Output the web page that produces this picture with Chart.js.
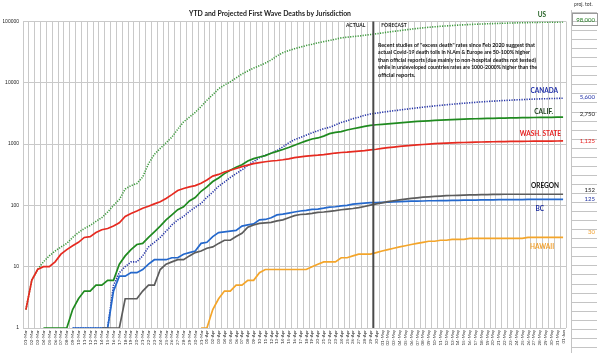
<!DOCTYPE html>
<html><head><meta charset="utf-8">
<script src="https://cdn.jsdelivr.net/npm/chart.js@4/dist/chart.umd.min.js"></script>
<style>html,body{margin:0;padding:0;background:#fff;}#wrap{width:600px;height:353px;position:relative;}</style>
</head><body><div id="wrap"><canvas id="c" width="600" height="353"></canvas></div>
<script>
const dayLabels = [
"01-Mar","02-Mar","03-Mar","04-Mar","05-Mar","06-Mar","07-Mar","08-Mar","09-Mar","10-Mar","11-Mar","12-Mar","13-Mar","14-Mar","15-Mar","16-Mar","17-Mar","18-Mar","19-Mar","20-Mar","21-Mar","22-Mar","23-Mar","24-Mar","25-Mar","26-Mar","27-Mar","28-Mar","29-Mar","30-Mar","31-Mar",
"01-Apr","02-Apr","03-Apr","04-Apr","05-Apr","06-Apr","07-Apr","08-Apr","09-Apr","10-Apr","11-Apr","12-Apr","13-Apr","14-Apr","15-Apr","16-Apr","17-Apr","18-Apr","19-Apr","20-Apr","21-Apr","22-Apr","23-Apr","24-Apr","25-Apr","26-Apr","27-Apr","28-Apr","29-Apr","30-Apr",
"01-May","02-May","03-May","04-May","05-May","06-May","07-May","08-May","09-May","10-May","11-May","12-May","13-May","14-May","15-May","16-May","17-May","18-May","19-May","20-May","21-May","22-May","23-May","24-May","25-May","26-May","27-May","28-May","29-May","30-May","31-May",
"01-Jun"];

const usDeaths = [2,6,9,12,15,18,21,24,30,36,42,47,55,63,78,100,125,185,210,228,290,480,680,850,1050,1300,1750,2300,2750,3300,4100,
5200,6400,8000,9200,10400,12000,13900,15600,17400,19000,21000,23500,27500,31000,33500,36000,38200,40500,42500,45000,47000,49000,51500,54000,55500,56800,58000,59600,61200,63000,
65000,67000,69000,71000,73000,75000,77000,78800,80500,82000,83500,84800,86000,87200,88300,89300,90200,91000,91800,92500,93200,93800,94400,95000,95500,96000,96500,96900,97300,97600,97800,98000];

const canadaDeaths = [null,null,null,null,null,null,null,null,1,1,1,1,1,1,1,5,8,10,12,12,15,21,25,30,38,48,58,66,80,93,108,
135,165,205,240,285,330,380,450,520,600,660,710,780,900,1050,1180,1280,1400,1530,1650,1780,1880,2050,2250,2400,2600,2750,2950,3100,3200,
3300,3400,3500,3600,3700,3800,3900,4000,4100,4200,4290,4380,4470,4560,4640,4720,4800,4880,4950,5020,5090,5150,5210,5270,5320,5370,5420,5460,5500,5540,5570,5600];

const califDeaths = [null,null,null,1,1,1,1,1,2,3,4,4,5,5,6,6,11,15,19,23,24,30,37,46,58,70,85,95,118,134,170,
200,245,280,330,375,420,460,530,580,615,650,710,760,815,880,960,1040,1130,1210,1260,1350,1480,1550,1600,1700,1780,1860,1940,2020,2070,
2100,2140,2180,2220,2260,2300,2340,2370,2400,2430,2460,2490,2510,2530,2550,2570,2590,2605,2620,2635,2650,2662,2674,2686,2697,2707,2716,2724,2732,2739,2745,2750];

const washDeaths = [2,6,9,10,10,12,16,19,22,25,30,31,36,40,42,46,52,66,74,81,90,97,106,115,130,150,175,189,200,210,230,
260,300,320,350,375,400,430,455,480,500,515,530,540,555,575,600,620,635,650,660,675,695,715,730,740,755,770,785,805,825,
850,875,895,915,935,955,970,985,1000,1015,1025,1035,1045,1055,1062,1070,1076,1082,1088,1093,1097,1101,1105,1108,1111,1114,1116,1118,1120,1122,1124,1125];

const oregonDeaths = [null,null,null,null,null,null,null,null,null,null,null,null,null,1,1,1,1,3,3,3,4,5,5,9,11,12,13,13,15,17,18,
20,21,24,27,27,31,35,44,48,51,52,53,56,58,63,68,71,72,74,77,78,80,82,85,87,89,92,96,101,106,
110,115,119,123,127,130,133,136,138,140,142,144,145,146,147,148,149,150,150,151,151,152,152,152,152,152,152,152,152,152,152,152];

const bcDeaths = [null,null,null,null,null,null,null,null,1,1,1,1,1,1,1,4,7,7,8,8,9,11,13,13,13,14,14,16,17,18,24,
25,31,36,37,38,39,46,48,50,58,59,63,70,72,75,78,81,83,86,87,90,94,95,98,100,105,107,109,111,111,
112,113,114,115,116,117,117,118,119,119,120,120,121,121,122,122,122,123,123,123,124,124,124,124,124,125,125,125,125,125,125,125];

const hawaiiDeaths = [null,null,null,null,null,null,null,null,null,null,null,null,null,null,null,null,null,null,null,null,null,null,null,null,null,null,null,null,null,null,1,
1,2,3,4,4,5,5,6,6,8,9,9,9,9,9,9,9,9,10,11,12,12,12,14,14,15,16,16,16,17,
18,19,20,21,22,23,24,25,26,26,27,27,28,28,28,29,29,29,29,29,29,29,29,29,29,30,30,30,30,30,30,30];

const yTickValues = [1,10,100,1000,10000,100000];
const seriesNames = ["US","CANADA","CALIF.","WASH. STATE","OREGON","BC","HAWAII"];
const projTotals = ["98,000","5,600","2,750","1,125","152","125","30"];
const forecastStartLabel = "30-Apr";
const titleText = "YTD and Projected First Wave Deaths by Jurisdiction";
const noteLines = [
 "Recent studies of \"excess death\" rates since Feb 2020 suggest that",
 "actual Covid-19 death tolls in N.Am & Europe are 50-100% higher",
 "than official reports (due mainly to non-hospital deaths not tested)",
 "while in undeveloped countries rates are 1000-2000% higher than the",
 "official reports."
];

const FONT = "Lato, 'Open Sans', 'Liberation Sans', sans-serif";

const lineColors = ["#3d9a3d","#2433a8","#1f8a1f","#e62a20","#5c5c5c","#2468cc","#f4a52a"];
const labelColors = ["#1f5e1f","#1f2fa8","#1a3d1a","#e62020","#111111","#1f2f9f","#f0a030"];
const labelStyle = [ {dx:-15,dy:-7}, {dx:-3,dy:-7}, {dx:-8,dy:-5}, {dx:0,dy:-7}, {dx:-2,dy:-8}, {dx:-17,dy:9}, {dx:-7,dy:9} ];
const tableY = [20,97,114,141,190,199,232];

const allSeries = [usDeaths,canadaDeaths,califDeaths,washDeaths,oregonDeaths,bcDeaths,hawaiiDeaths];
const dashed = [true,true,false,false,false,false,false];

const datasets = allSeries.map((d,i)=>({
  label: seriesNames[i],
  data: d,
  borderColor: lineColors[i],
  backgroundColor: lineColors[i],
  borderWidth: dashed[i] ? 1.6 : 1.7,
  borderDash: dashed[i] ? [1.2,1.3] : [],
  pointRadius: 0,
  tension: 0,
  spanGaps: false,
  fill: false,
  order: [7,6,3,2,4,5,1][i]
}));

const overlay = {
  id:'overlay',
  afterDatasetsDraw(chart){
    const {ctx, chartArea:a, scales:{x,y}} = chart;
    const fi = dayLabels.indexOf(forecastStartLabel);
    const xd = (x.getPixelForValue(fi-1)+x.getPixelForValue(fi))/2;
    ctx.save();
    ctx.strokeStyle = '#4a4a4a'; ctx.lineWidth = 2;
    ctx.beginPath(); ctx.moveTo(xd, a.top); ctx.lineTo(xd, a.bottom); ctx.stroke();

    ctx.fillStyle = '#222';
    ctx.font = "bold 7px " + FONT;
    ctx.textAlign = 'center'; ctx.textBaseline = 'middle';
    ctx.fillText(titleText, 270, 13.5, 162);

    ctx.font = "bold 5px " + FONT;
    ctx.textAlign = 'right';
    ctx.fillText("ACTUAL", xd - 8, 25.5, 22);
    ctx.textAlign = 'left';
    ctx.fillText("FORECAST", xd + 8, 25.5, 28);

    ctx.font = "bold 5.6px " + FONT;
    ctx.fillStyle = '#111';
    const noteW = [157,152,158,159,42];
    noteLines.forEach((t,k)=>{ ctx.fillText(t, 378, 45 + k*7.5, noteW[k]); });

    ctx.font = "bold 6.5px " + FONT;
    ctx.textAlign = 'right';
    allSeries.forEach((d,i)=>{
      const last = d[d.length-1];
      const py = y.getPixelForValue(last);
      const px = x.getPixelForValue(d.length-1);
      ctx.fillStyle = labelColors[i];
      ctx.fillText(seriesNames[i], px + labelStyle[i].dx - 2, py + labelStyle[i].dy);
    });

    ctx.strokeStyle = '#c4c4c4'; ctx.lineWidth = 1;
    ctx.beginPath(); ctx.moveTo(571.5, 10); ctx.lineTo(571.5, 353); ctx.stroke();
    for (let yy = 12; yy < 353; yy += 9.05) {
      const r = Math.round(yy) + 0.5;
      ctx.beginPath(); ctx.moveTo(571.5, r); ctx.lineTo(597, r); ctx.stroke();
    }
    ctx.strokeStyle = '#9a9a9a';
    ctx.strokeRect(572.5, 13.5, 25, 12);
    ctx.fillStyle = '#333';
    ctx.font = "5px " + FONT;
    ctx.textAlign = 'left';
    ctx.fillText("proj. tot.", 574, 4.5, 20);
    ctx.font = "6px " + FONT;
    ctx.textAlign = 'right';
    projTotals.forEach((t,i)=>{
      ctx.fillStyle = i===0 ? '#1f7a1f' : ((i===2 || i===4) ? '#222' : labelColors[i]);
      ctx.fillText(t, 595, tableY[i], 22);
    });
    ctx.restore();
  }
};

new Chart(document.getElementById('c').getContext('2d'), {
  type: 'line',
  data: { labels: dayLabels, datasets },
  options: {
    responsive: false, animation: false, devicePixelRatio: 1,
    layout: { padding: { left: 3, right: 34, top: 21.5, bottom: 0 } },
    plugins: { legend: { display: false }, tooltip: { enabled: false } },
    scales: {
      x: {
        offset: true,
        grid: { offset: true, color: '#c9c9c9', lineWidth: 1, drawTicks: false },
        border: { display: false },
        ticks: { autoSkip: false, maxRotation: 90, minRotation: 90, padding: 2, color: '#333', font: { size: 4.5, family: FONT } },
        afterFit(s){ s.height = 25; }
      },
      y: {
        type: 'logarithmic', min: 1, max: 100000,
        afterBuildTicks(s){ s.ticks = yTickValues.map(v => ({ value: v })); },
        grid: { color: '#c9c9c9', lineWidth: 1, drawTicks: false },
        border: { display: false },
        ticks: { padding: 4, color: '#222', font: { size: 5, family: "'Liberation Sans', Arial, sans-serif" }, callback: v => String(v) },
        afterFit(s){ s.width = 20; }
      }
    }
  },
  plugins: [overlay]
});
</script>
</body></html>
